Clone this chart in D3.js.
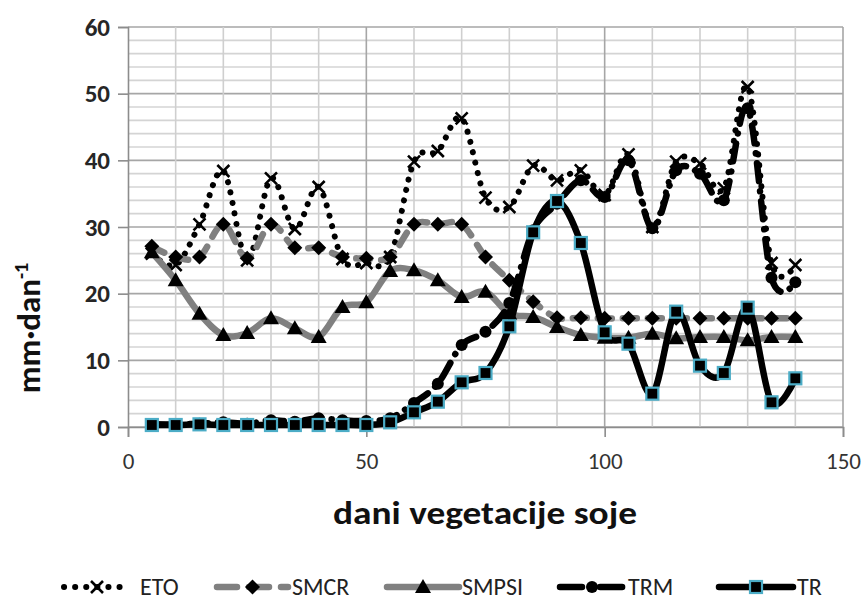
<!DOCTYPE html>
<html><head><meta charset="utf-8">
<script src="https://cdn.jsdelivr.net/npm/d3@7/dist/d3.min.js"></script>
<style>body{margin:0;background:#fff}svg{display:block}</style>
</head><body>
<svg id="c" width="866" height="600"></svg>
<script>
const days = [5,10,15,20,25,30,35,40,45,50,55,60,65,70,75,80,85,90,95,100,105,110,115,120,125,130,135,140];
const ETO   = [26,24.3,30.4,38.4,25,37.3,29.7,36,25.2,24.6,25.5,39.8,41.4,46.3,34.4,33,39.2,37,38.5,34.8,40.9,30,39.8,39.5,35.8,51,24.6,24.3];
const SMCR  = [27.1,25.5,25.5,30.4,25.3,30.4,26.9,26.9,25.5,25.3,25.5,30.4,30.4,30.4,25.5,22,18.8,16.4,16.4,16.3,16.3,16.3,16.3,16.3,16.3,16.3,16.3,16.3];
const SMPSI = [26.2,22,17,13.8,14.1,16.3,14.8,13.5,18,18.7,23.4,23.5,22,19.5,20.3,17,16.5,15,13.8,13.4,13.4,14,13.3,13.5,13.5,13,13.5,13.5];
const TRM   = [0.4,0.4,0.5,0.7,0.5,1,0.8,1.3,1,0.9,1.3,3.6,6.5,12.3,14.3,18.6,29.5,33.5,37,34.5,40,29.8,38.5,38,34,47.8,22.4,21.7];
const TR    = [0.3,0.3,0.4,0.3,0.3,0.3,0.3,0.3,0.3,0.3,0.7,2.2,3.8,6.7,8.1,15.1,29.2,33.9,27.6,14.2,12.5,5,17.3,9.2,8.1,17.9,3.7,7.3];
const seriesNames = ["ETO","SMCR","SMPSI","TRM","TR"];
const xTicks = [0,50,100,150];
const yTicks = [0,10,20,30,40,50,60];

const svg = d3.select("#c");
const L=128, R=843, T=27, B=427;
const x = d3.scaleLinear().domain([0,150]).range([L,R]);
const y = d3.scaleLinear().domain([0,60]).range([B,T]);
const font = "Carlito,'Liberation Sans Narrow','Arial Narrow','Open Sans',sans-serif";

// grid
const g = svg.append("g");
d3.range(0,61,2).forEach(v=>{
  g.append("line").attr("x1",L).attr("x2",R).attr("y1",y(v)).attr("y2",y(v))
   .attr("stroke", v%10===0 ? "#a6a6a6" : "#d4d4d4").attr("stroke-width", 1.6);
});
d3.range(10,151,10).forEach(v=>{
  g.append("line").attr("x1",x(v)).attr("x2",x(v)).attr("y1",T).attr("y2",B)
   .attr("stroke", v%50===0 ? "#a6a6a6" : "#cfcfcf").attr("stroke-width", 1.6);
});

// axes
const ya = svg.append("g").attr("transform",`translate(${L},0)`)
  .call(d3.axisLeft(y).tickValues(yTicks).tickSize(10).tickPadding(8));
ya.select(".domain").attr("stroke","#8c8c8c").attr("stroke-width",1.6);
ya.selectAll(".tick line").attr("stroke","#8c8c8c").attr("stroke-width",1.6);
ya.selectAll("text").attr("font-family",font).attr("font-size",25).attr("font-weight","bold").attr("fill","#262626");

const xa = svg.append("g").attr("transform",`translate(0,${B})`)
  .call(d3.axisBottom(x).tickValues(xTicks).tickSize(10).tickPadding(16));
xa.select(".domain").attr("stroke","#8c8c8c").attr("stroke-width",1.6);
xa.selectAll(".tick line").attr("stroke","#8c8c8c").attr("stroke-width",1.6);
xa.selectAll("text").attr("font-family",font).attr("font-size",23).attr("fill","#333");

// axis titles
svg.append("text").attr("x",485).attr("y",524).attr("text-anchor","middle")
  .attr("font-family",font).attr("font-size",32).attr("font-weight","bold").attr("fill","#111")
  .attr("textLength",304).attr("lengthAdjust","spacingAndGlyphs")
  .text("dani vegetacije soje");
const yl = svg.append("text").attr("transform","translate(40,328) rotate(-90)").attr("text-anchor","middle")
  .attr("font-family",font).attr("font-size",33).attr("font-weight","bold").attr("fill","#111");
yl.append("tspan").text("mm·dan");
yl.append("tspan").attr("dy",-12).attr("font-size",20).text("-1");

const curve = d3.curveCardinal.tension(0);
const line = d3.line().x(d=>x(d[0])).y(d=>y(d[1])).curve(curve);
const pts = arr => days.map((d,i)=>[d,arr[i]]);

const styles = {
  ETO:  {vals:ETO, stroke:"#000", w:6, dash:"0.1 10.5", cap:"round", marker:"x"},
  SMCR: {vals:SMCR, stroke:"#808080", w:6.5, dash:"14 11", cap:"round", marker:"diamond"},
  SMPSI:{vals:SMPSI, stroke:"#808080", w:6.5, dash:null, cap:"round", marker:"triangle"},
  TRM:  {vals:TRM, stroke:"#000", w:6.5, dash:"18 10 0.1 10", cap:"round", marker:"circle"},
  TR:   {vals:TR, stroke:"#000", w:6.5, dash:null, cap:"round", marker:"square"}
};

function drawMarker(sel, type, cx, cy){
  if(type==="x"){
    const s=6;
    sel.append("path").attr("d",`M${cx-s},${cy-s}L${cx+s},${cy+s}M${cx-s},${cy+s}L${cx+s},${cy-s}`)
      .attr("stroke","#000").attr("stroke-width",2.6).attr("fill","none");
  } else if(type==="diamond"){
    const s=7.5;
    sel.append("path").attr("d",`M${cx},${cy-s}L${cx+s},${cy}L${cx},${cy+s}L${cx-s},${cy}Z`).attr("fill","#000");
  } else if(type==="triangle"){
    const s=8;
    sel.append("path").attr("d",`M${cx},${cy-s}L${cx+s},${cy+s*0.75}L${cx-s},${cy+s*0.75}Z`).attr("fill","#000");
  } else if(type==="circle"){
    sel.append("circle").attr("cx",cx).attr("cy",cy).attr("r",6).attr("fill","#000");
  } else if(type==="square"){
    sel.append("rect").attr("x",cx-6).attr("y",cy-6).attr("width",12).attr("height",12)
      .attr("fill","#000").attr("stroke","#4bacc6").attr("stroke-width",2.2);
  }
}

seriesNames.forEach(name=>{
  const st = styles[name];
  const sg = svg.append("g");
  sg.append("path").attr("d",line(pts(st.vals))).attr("fill","none")
    .attr("stroke",st.stroke).attr("stroke-width",st.w)
    .attr("stroke-linecap",st.cap).attr("stroke-linejoin","round")
    .attr("stroke-dasharray",st.dash);
  st.vals.forEach((v,i)=>drawMarker(sg, st.marker, x(days[i]), y(v)));
});

// legend
const legendPos = [
  {name:"ETO", x1:64, x2:130, tx:140, dash:"0.1 11"},
  {name:"SMCR", x1:217, x2:288, tx:292, dash:"20 12"},
  {name:"SMPSI", x1:387, x2:459, tx:462, dash:null},
  {name:"TRM", x1:560, x2:624, tx:628, dash:"22 9 0.1 9"},
  {name:"TR", x1:719, x2:793, tx:797, dash:null}
];
const ly = 587;
legendPos.forEach(p=>{
  const st = styles[p.name];
  const lg = svg.append("g");
  lg.append("line").attr("x1",p.x1).attr("x2",p.x2).attr("y1",ly).attr("y2",ly)
    .attr("stroke",st.stroke).attr("stroke-width",st.w).attr("stroke-linecap",st.cap)
    .attr("stroke-dasharray", p.dash);
  drawMarker(lg, st.marker, (p.x1+p.x2)/2, ly);
  lg.append("text").attr("x",p.tx).attr("y",ly+8).attr("font-family",font).attr("font-size",24)
    .attr("fill","#222").text(p.name);
});
</script>
</body></html>
